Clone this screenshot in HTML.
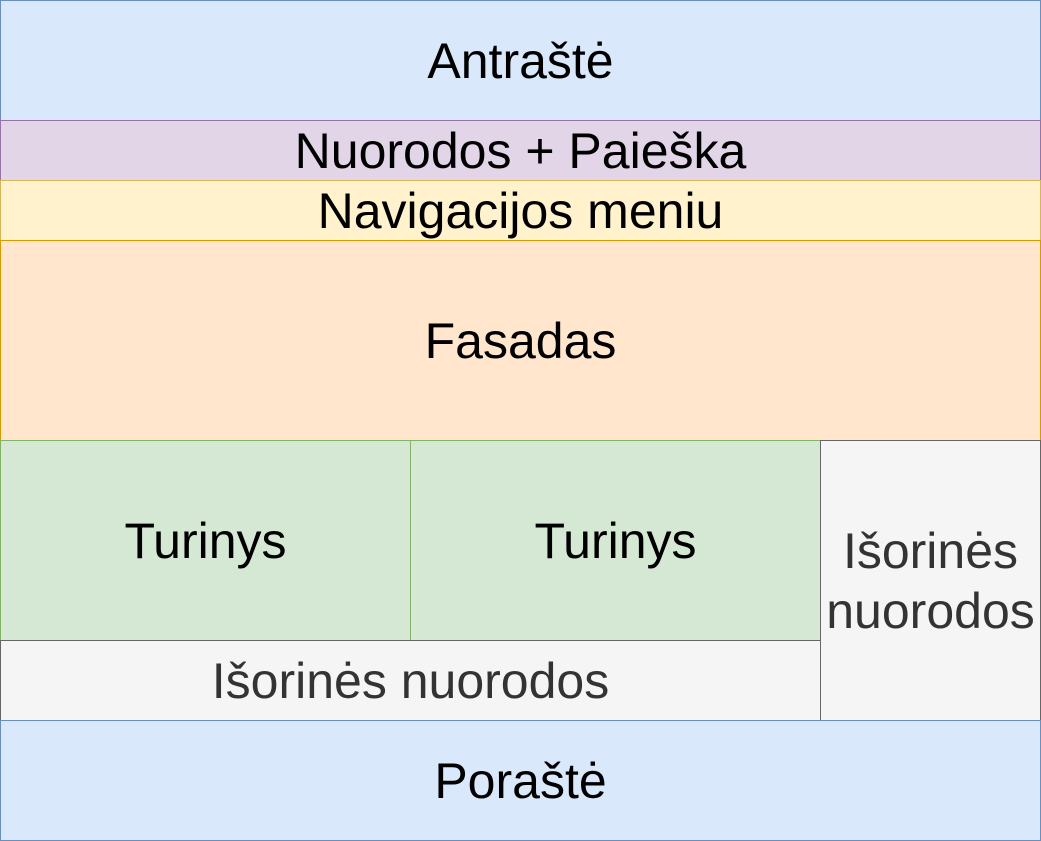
<!DOCTYPE html>
<html><head><meta charset="utf-8">
<style>
html,body{margin:0;padding:0;background:#fff;}
body{width:1041px;height:841px;position:relative;overflow:hidden;font-family:"Liberation Sans",sans-serif;}
.b{position:absolute;box-sizing:border-box;border:1px solid;display:flex;align-items:center;justify-content:center;text-align:center;font-size:50px;line-height:1.2;color:#000;}
.blue{background:#dae8fc;border-color:#6c8ebf;}
.purple{background:#e1d5e7;border-color:#9673a6;}
.yellow{background:#fff2cc;border-color:#d6b656;}
.orange{background:#ffe6cc;border-color:#d79b00;}
.green{background:#d5e8d4;border-color:#82b366;}
.gray{background:#f5f5f5;border-color:#666666;color:#333333;}
</style></head><body>
<div class="b blue" style="left:0;top:0;width:1041px;height:121px;">Antraštė</div>
<div class="b purple" style="left:0;top:120px;width:1041px;height:61px;">Nuorodos + Paieška</div>
<div class="b yellow" style="left:0;top:180px;width:1041px;height:61px;">Navigacijos meniu</div>
<div class="b orange" style="left:0;top:240px;width:1041px;height:201px;">Fasadas</div>
<div class="b green" style="left:0;top:440px;width:411px;height:201px;">Turinys</div>
<div class="b green" style="left:410px;top:440px;width:411px;height:201px;">Turinys</div>
<div class="b gray" style="left:0;top:640px;width:821px;height:81px;">Išorinės nuorodos</div>
<div class="b gray" style="left:820px;top:440px;width:221px;height:281px;">Išorinės<br>nuorodos</div>
<div class="b blue" style="left:0;top:720px;width:1041px;height:121px;">Poraštė</div>
</body></html>
